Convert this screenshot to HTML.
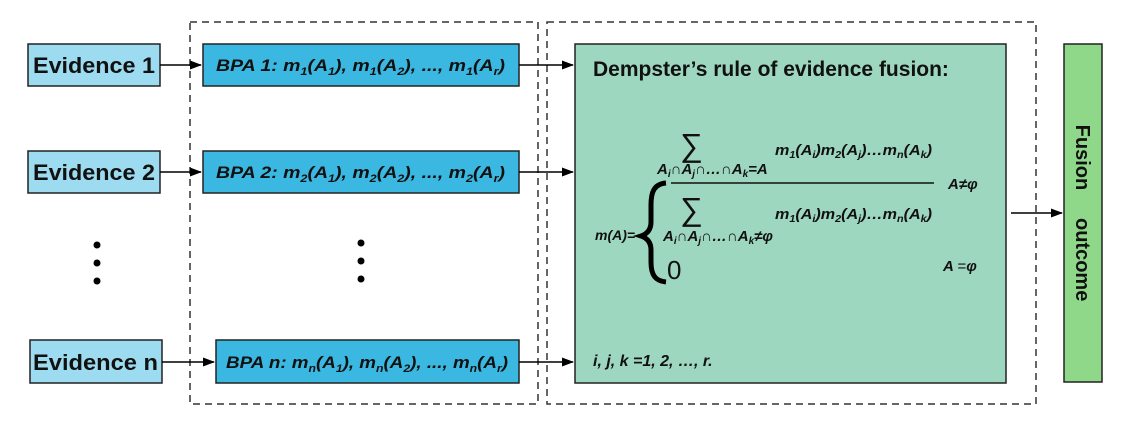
<!DOCTYPE html>
<html><head><meta charset="utf-8"><style>
html,body{margin:0;padding:0;background:#fff;}
svg{display:block;font-family:"Liberation Sans",Arial,sans-serif;}
</style></head><body>
<svg width="1126" height="421" viewBox="0 0 1126 421" xmlns="http://www.w3.org/2000/svg">
<defs><marker id="a" markerWidth="12" markerHeight="9" refX="11" refY="4.5" orient="auto" markerUnits="userSpaceOnUse"><path d="M0,0 L12,4.5 L0,9 z" fill="#000"/></marker></defs>
<rect x="0" y="0" width="1126" height="421" fill="#fff"/>
<rect x="190" y="22" width="348" height="382" fill="none" stroke="#333" stroke-width="1.5" stroke-dasharray="7,5"/>
<rect x="547" y="22" width="489" height="382" fill="none" stroke="#333" stroke-width="1.5" stroke-dasharray="7,5"/>
<g stroke="#222" stroke-width="1.5">
<rect x="28" y="44" width="132" height="42" fill="#9ddcf0"/>
<rect x="28" y="151" width="132" height="42" fill="#9ddcf0"/>
<rect x="30" y="340" width="132" height="43" fill="#9ddcf0"/>
<rect x="203" y="44" width="316" height="42" fill="#3bb8e2"/>
<rect x="203" y="151" width="316" height="42" fill="#3bb8e2"/>
<rect x="216" y="340" width="303" height="43" fill="#3bb8e2"/>
<rect x="575" y="44" width="431" height="339" fill="#9ed7c0"/>
<rect x="1064" y="44" width="38" height="338" fill="#8fd88a"/>
</g>
<g font-weight="bold" font-size="22" fill="#111">
<text x="33" y="73" textLength="122" lengthAdjust="spacingAndGlyphs">Evidence 1</text>
<text x="33" y="180" textLength="122" lengthAdjust="spacingAndGlyphs">Evidence 2</text>
<text x="33" y="370" textLength="125" lengthAdjust="spacingAndGlyphs">Evidence n</text>
</g>
<g font-weight="bold" font-style="italic" font-size="17" fill="#111">
<text x="216" y="71" textLength="289" lengthAdjust="spacingAndGlyphs">BPA 1: m<tspan font-size="11" dy="4">1</tspan><tspan dy="-4">(A</tspan><tspan font-size="11" dy="4">1</tspan><tspan dy="-4">), m</tspan><tspan font-size="11" dy="4">1</tspan><tspan dy="-4">(A</tspan><tspan font-size="11" dy="4">2</tspan><tspan dy="-4">), ..., m</tspan><tspan font-size="11" dy="4">1</tspan><tspan dy="-4">(A</tspan><tspan font-size="11" dy="4">r</tspan><tspan dy="-4">)</tspan></text>
<text x="216" y="178" textLength="289" lengthAdjust="spacingAndGlyphs">BPA 2: m<tspan font-size="11" dy="4">2</tspan><tspan dy="-4">(A</tspan><tspan font-size="11" dy="4">1</tspan><tspan dy="-4">), m</tspan><tspan font-size="11" dy="4">2</tspan><tspan dy="-4">(A</tspan><tspan font-size="11" dy="4">2</tspan><tspan dy="-4">), ..., m</tspan><tspan font-size="11" dy="4">2</tspan><tspan dy="-4">(A</tspan><tspan font-size="11" dy="4">r</tspan><tspan dy="-4">)</tspan></text>
<text x="226" y="368" textLength="282" lengthAdjust="spacingAndGlyphs">BPA n: m<tspan font-size="11" dy="4">n</tspan><tspan dy="-4">(A</tspan><tspan font-size="11" dy="4">1</tspan><tspan dy="-4">), m</tspan><tspan font-size="11" dy="4">n</tspan><tspan dy="-4">(A</tspan><tspan font-size="11" dy="4">2</tspan><tspan dy="-4">), ..., m</tspan><tspan font-size="11" dy="4">n</tspan><tspan dy="-4">(A</tspan><tspan font-size="11" dy="4">r</tspan><tspan dy="-4">)</tspan></text>
</g>
<g stroke="#000" stroke-width="1.5" marker-end="url(#a)">
<line x1="160" y1="65" x2="201" y2="65"/>
<line x1="160" y1="172" x2="201" y2="172"/>
<line x1="162" y1="362" x2="214" y2="362"/>
<line x1="519" y1="65" x2="573" y2="65"/>
<line x1="519" y1="172" x2="573" y2="172"/>
<line x1="519" y1="362" x2="573" y2="362"/>
<line x1="1011" y1="213" x2="1062" y2="213"/>
</g>
<g fill="#000">
<circle cx="97" cy="245" r="3.5"/><circle cx="97" cy="263" r="3.5"/><circle cx="97" cy="281" r="3.5"/>
<circle cx="361" cy="243" r="3.5"/><circle cx="361" cy="261" r="3.5"/><circle cx="361" cy="279" r="3.5"/>
</g>
<text x="593" y="76" font-weight="bold" font-size="21" fill="#111">Dempster’s rule of evidence fusion:</text>
<g fill="#111" font-weight="bold" font-style="italic">
<text x="680" y="156" font-size="32" font-style="normal" font-weight="normal">∑</text>
<text x="657" y="174" font-size="15">A<tspan font-size="10" dy="3">i</tspan><tspan dy="-3">∩A</tspan><tspan font-size="10" dy="3">j</tspan><tspan dy="-3">∩…∩A</tspan><tspan font-size="10" dy="3">k</tspan><tspan dy="-3">=A</tspan></text>
<text x="775" y="155" font-size="15" textLength="157" lengthAdjust="spacingAndGlyphs">m<tspan font-size="10" dy="3">1</tspan><tspan dy="-3">(A</tspan><tspan font-size="10" dy="3">i</tspan><tspan dy="-3">)m</tspan><tspan font-size="10" dy="3">2</tspan><tspan dy="-3">(A</tspan><tspan font-size="10" dy="3">j</tspan><tspan dy="-3">)…m</tspan><tspan font-size="10" dy="3">n</tspan><tspan dy="-3">(A</tspan><tspan font-size="10" dy="3">k</tspan><tspan dy="-3">)</tspan></text>
<text x="948" y="189" font-size="15">A≠φ</text>
<text x="680" y="220" font-size="32" font-style="normal" font-weight="normal">∑</text>
<text x="663" y="241" font-size="15">A<tspan font-size="10" dy="3">i</tspan><tspan dy="-3">∩A</tspan><tspan font-size="10" dy="3">j</tspan><tspan dy="-3">∩…∩A</tspan><tspan font-size="10" dy="3">k</tspan><tspan dy="-3">≠φ</tspan></text>
<text x="775" y="219" font-size="15" textLength="157" lengthAdjust="spacingAndGlyphs">m<tspan font-size="10" dy="3">1</tspan><tspan dy="-3">(A</tspan><tspan font-size="10" dy="3">i</tspan><tspan dy="-3">)m</tspan><tspan font-size="10" dy="3">2</tspan><tspan dy="-3">(A</tspan><tspan font-size="10" dy="3">j</tspan><tspan dy="-3">)…m</tspan><tspan font-size="10" dy="3">n</tspan><tspan dy="-3">(A</tspan><tspan font-size="10" dy="3">k</tspan><tspan dy="-3">)</tspan></text>
<text x="595" y="240" font-size="14">m(A)=</text>
<text x="943" y="271" font-size="15">A <tspan font-style="normal" font-weight="normal">=</tspan>φ</text>
<text x="593" y="366" font-size="16">i, j, k =1, 2, …, r.</text>
</g>
<text x="667" y="279" font-size="26" fill="#111">0</text>
<line x1="671" y1="183" x2="934" y2="183" stroke="#111" stroke-width="1.5"/>
<path d="M666,183 C654,184 651,192 651,205 L651,222 C651,230 647,234 641,236 C647,238 651,242 651,250 L651,262 C651,276 656,281 666,282" fill="none" stroke="#000" stroke-width="5"/>
<text transform="translate(1076,213) rotate(90)" text-anchor="middle" font-weight="bold" font-size="20" fill="#111" xml:space="preserve">Fusion     outcome</text>
</svg>
</body></html>
